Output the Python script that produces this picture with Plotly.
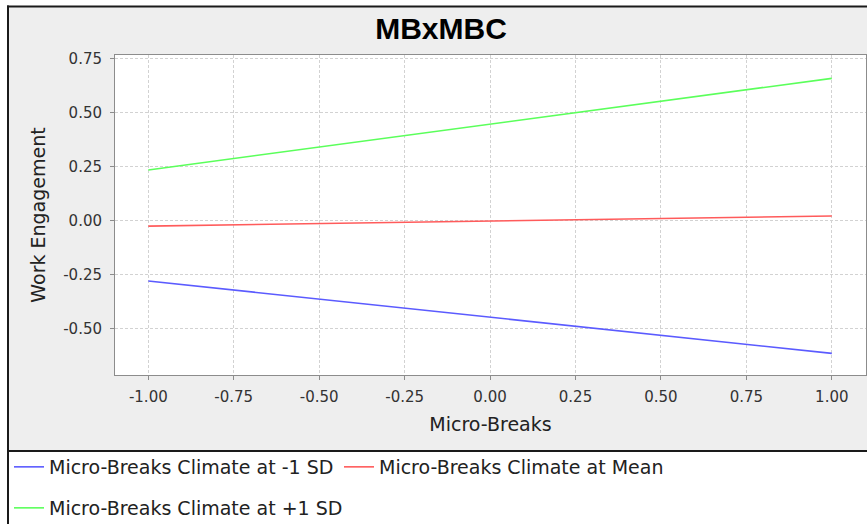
import plotly.graph_objects as go

# ---- data ----
x_values = [-1.0, 1.0]
low_sd = [-0.279, -0.614]
mean_vals = [-0.025, 0.022]
high_sd = [0.235, 0.659]
series_names = ["Micro-Breaks Climate at -1 SD",
                "Micro-Breaks Climate at Mean",
                "Micro-Breaks Climate at +1 SD"]
x_ticks = [-1.0, -0.75, -0.5, -0.25, 0.0, 0.25, 0.5, 0.75, 1.0]
x_tick_labels = ["-1.00", "-0.75", "-0.50", "-0.25", "0.00", "0.25", "0.50", "0.75", "1.00"]
y_ticks = [-0.5, -0.25, 0.0, 0.25, 0.5, 0.75]
y_tick_labels = ["-0.50", "-0.25", "0.00", "0.25", "0.50", "0.75"]

SW, SH = 867, 524
W, H = SW, SH
PL, PR, PT, PB = 115, 866, 55, 375          # plot area in page px
L, R, T, B = PL, SW - PR, PT, SH - PB
PW, PH = PR - PL, PB - PT

def xp(sx):
    return (sx - PL) / PW

def yp(sy):
    return (PB - sy) / PH

FONT = "DejaVu Sans"
colors = ["#5B5BFF", "#FF5B5B", "#5BFF5B"]
series = [low_sd, mean_vals, high_sd]
legends = ["legend", "legend2", "legend3"]

fig = go.Figure()
for name, vals, c, lg in zip(series_names, series, colors, legends):
    fig.add_trace(go.Scatter(x=x_values, y=vals, mode="lines", name=name,
                             line=dict(color=c, width=1.6), legend=lg))

axis_common = dict(
    showgrid=True, gridcolor="#D2D2D2", griddash="3px,2px", gridwidth=1,
    zeroline=False, showline=True, linecolor="#8C8C8C", linewidth=1, mirror=True,
    ticks="outside", ticklen=4, tickcolor="#8C8C8C",
    tickfont=dict(family=FONT, size=15, color="#333333"),
)

leg_common = dict(bgcolor="rgba(0,0,0,0)", borderwidth=0, itemwidth=30,
                  font=dict(family=FONT, size=19, color="#222222"),
                  xanchor="left", yanchor="middle", orientation="h")

fig.update_layout(
    width=W, height=H,
    margin=dict(l=L, r=R, t=T, b=B, pad=0, autoexpand=False),
    paper_bgcolor="#EEEEEE", plot_bgcolor="#FFFFFF",
    title=dict(text="<b>MBxMBC</b>", x=441 / W, xref="container",
               y=1 - 28 / H, yref="container", xanchor="center", yanchor="middle",
               font=dict(family="Liberation Sans", size=30, color="#000000")),
    xaxis=dict(range=[-1.0975, 1.10], tickvals=x_ticks, ticktext=x_tick_labels,
               ticklabelstandoff=4,
               title=dict(text="Micro-Breaks", standoff=12,
                          font=dict(family=FONT, size=19, color="#222222")),
               **axis_common),
    yaxis=dict(range=[-0.714, 0.767], tickvals=y_ticks, ticktext=y_tick_labels,
               ticklabelstandoff=5,
               title=dict(text="Work Engagement", standoff=12,
                          font=dict(family=FONT, size=19, color="#222222")),
               **axis_common),
    legend=dict(x=xp(9), y=yp(467), **leg_common),
    legend2=dict(x=xp(339), y=yp(467), **leg_common),
    legend3=dict(x=xp(9), y=yp(508), **leg_common),
    showlegend=True,
)

shapes = [
    # white page outside the chart border
    dict(type="rect", xref="paper", yref="paper", x0=xp(-5), x1=xp(SW + 5), y0=yp(-5), y1=yp(6),
         fillcolor="#FFFFFF", line=dict(width=0), layer="below"),
    dict(type="rect", xref="paper", yref="paper", x0=xp(-5), x1=xp(7), y0=yp(-5), y1=yp(SH + 5),
         fillcolor="#FFFFFF", line=dict(width=0), layer="below"),
    # white legend area
    dict(type="rect", xref="paper", yref="paper", x0=xp(7), x1=xp(SW + 5), y0=yp(451), y1=yp(SH + 5),
         fillcolor="#FFFFFF", line=dict(width=0), layer="below"),
    # borders
    dict(type="line", xref="paper", yref="paper", x0=xp(7), x1=xp(SW + 5), y0=yp(6.5), y1=yp(6.5),
         line=dict(color="#1A1A1A", width=2)),
    dict(type="line", xref="paper", yref="paper", x0=xp(8), x1=xp(8), y0=yp(5.5), y1=yp(SH + 5),
         line=dict(color="#1A1A1A", width=2)),
    dict(type="line", xref="paper", yref="paper", x0=xp(7), x1=xp(SW + 5), y0=yp(451), y1=yp(451),
         line=dict(color="#1A1A1A", width=2)),
]
fig.update_layout(shapes=shapes)

fig.write_html("out.html", config={"displayModeBar": False},
               post_script="document.body.style.margin='0px';")
